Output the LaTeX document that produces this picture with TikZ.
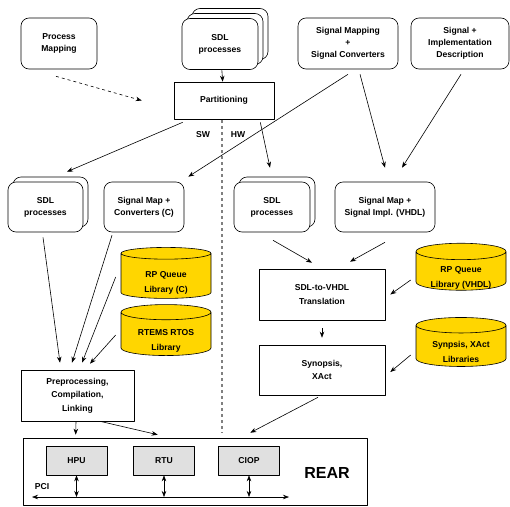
\documentclass[tikz,border=0pt]{standalone}
\usepackage{fontspec}
\setmainfont{Liberation Sans}
\usetikzlibrary{arrows.meta,calc,shapes.geometric,shadows}
\definecolor{libyellow}{RGB}{255,214,0}
\definecolor{unitgray}{RGB}{224,224,224}

\newcommand{\dbtext}[1]{\raisebox{-8pt}[0pt][0pt]{\begin{tabular}{@{}c@{}}#1\end{tabular}}}

\tikzset{
  lbl/.style={font=\bfseries\fontsize{8.6}{12}\selectfont, align=center},
  rbox/.style={lbl, draw, rounded corners=8pt, fill=white, inner sep=0pt},
  sqbox/.style={lbl, draw, fill=white, inner sep=0pt, font=\bfseries\fontsize{8.6}{13.5}\selectfont},
  stack/.style={copy shadow={shadow xshift=5pt,shadow yshift=5pt}},
  dstack/.style={double copy shadow={shadow xshift=5pt,shadow yshift=5pt}},
  unitbox/.style={lbl, draw, fill=unitgray, inner sep=0pt, minimum width=61pt, minimum height=29pt},
  libdb/.style={lbl, draw, cylinder, shape border rotate=90, aspect=0.27, fill=libyellow,
    minimum width=90pt, minimum height=51pt, inner sep=0pt, font=\bfseries\fontsize{8.6}{15}\selectfont},
  conn/.style={->},
  sepline/.style={draw=gray, dash pattern=on 3pt off 3pt, line width=1.2pt}
}

\begin{document}
\begin{tikzpicture}[x=1pt,y=-1pt,line width=0.6pt,line join=round,>={Stealth[length=6pt,width=4.5pt]}]
\useasboundingbox (0,0) rectangle (510,506);

% top row
\node[rbox,minimum width=76pt,minimum height=51pt] (pm) at (59,43.5) {Process\\Mapping};
\node[rbox,dstack,minimum width=76pt,minimum height=51pt] (sdl) at (220,44) {SDL\\processes};
\node[rbox,minimum width=100pt,minimum height=51pt] (sigmap) at (348,43.5) {Signal Mapping\\+\\Signal Converters};
\node[rbox,minimum width=98pt,minimum height=51pt] (sigimpl) at (460,43.5) {Signal +\\Implementation\\Description};
\node[sqbox,minimum width=100pt,minimum height=37pt] (part) at (224,100.5) {Partitioning};

\node[lbl] (sw) at (203,135) {SW};
\node[lbl] (hw) at (238,135) {HW};
\draw[sepline] ($(part.south)+(-2,1)$) -- ++(0,313);

% second row
\node[rbox,stack,minimum width=75pt,minimum height=50pt] (sdlsw) at (45.5,207) {SDL\\processes};
\node[rbox,minimum width=80pt,minimum height=50pt] (sigc) at (144,207) {Signal Map +\\Converters (C)};
\node[rbox,stack,minimum width=76pt,minimum height=50pt] (sdlhw) at (272,207) {SDL\\processes};
\node[rbox,minimum width=100pt,minimum height=50pt] (sigv) at (385,207) {Signal Map +\\Signal Impl. (VHDL)};

% libraries
\node[libdb] (rpc) at (166,276) {\dbtext{RP Queue\\Library (C)}};
\node[libdb] (rtems) at (166,334) {\dbtext{RTEMS RTOS\\Library}};
\node[libdb,minimum height=47pt] (rpv) at (461,271) {\dbtext{RP Queue\\Library (VHDL)}};
\node[libdb,minimum height=49pt] (synlib) at (461,346) {\dbtext{Synpsis, XAct\\Libraries}};

% tools
\node[sqbox,minimum width=126pt,minimum height=51pt] (trans) at (322,294.5) {SDL-to-VHDL\\Translation};
\node[sqbox,minimum width=126pt,minimum height=50pt] (syn) at (322,370) {Synopsis,\\XAct};
\node[sqbox,minimum width=113pt,minimum height=51pt] (prep) at (77.5,395.5) {Preprocessing,\\Compilation,\\Linking};

% target board
\node[draw,minimum width=344pt,minimum height=67pt,inner sep=0pt] (rear) at (195,471.5) {};
\node[lbl,font=\bfseries\fontsize{16}{18}\selectfont] (rearlbl) at (327,473) {REAR};
\node[lbl] (pcilbl) at (42,487) {PCI};
\coordinate (pcil) at (32,497);
\coordinate (pcir) at (289,497);
\draw[<->] (pcil) -- (pcir);
\foreach \u/\x/\t in {hpu/76.5/HPU,rtu/164/RTU,ciop/249/CIOP}{
  \node[unitbox] (\u) at (\x,460.5) {\t};
  \draw[<->] (\u.south) -- (\u.south |- pcil);
}

% flows
\draw[conn,dashed] ($(pm.south)+(-3,7)$) -- ($(part.west)+(-32,0)$);
\draw[conn] (sdl) -- (part);
\draw[conn] ($(part.south west)+(9,3)$) -- ($(sdlsw.north)+(21.5,-10)$);
\draw[conn] ($(part.south east)+(-14,3)$) -- ($(sdlhw.north)+(-2,-14)$);
\draw[conn] ($(sigmap.south)+(0,5)$) -- ($(sigc.north east)+(4,-5)$);
\draw[conn] ($(sigmap.south)+(12,5)$) -- ($(sigv.north)+(0,-14)$);
\draw[conn] ($(sigimpl.south)+(1,5)$) -- ($(sigv.north)+(17,-14)$);

\draw[conn] ($(sdlsw.south)+(-2.5,5)$) -- ($(prep.north)+(-17.5,-7)$);
\draw[conn] ($(sigc.south)+(-32,3)$) -- ($(prep.north)+(-5.5,-7)$);
\draw[conn] ($(rpc.west)+(-5,1)$) -- ($(prep.north)+(4.5,-7)$);
\draw[conn] ($(rtems.west)+(-5,1)$) -- ($(prep.north)+(12.5,-6)$);
\draw[conn] ($(prep.south)+(-1.5,0)$) -- ($(rear.north west)+(53,-3)$);
\draw[conn] ($(prep.south)+(22.5,0)$) -- ($(rear.north west)+(135,-3)$);

\draw[conn] ($(sdlhw.south)+(1,8)$) -- ($(trans.north)+(-10,-6)$);
\draw[conn] ($(sigv.south)+(0,10)$) -- ($(trans.north)+(28,-7)$);
\draw[conn] ($(rpv.west)+(-5,9)$) -- ($(trans.east)+(5,0)$);
\draw[conn] ($(trans.south)+(0,8)$) -- ($(syn.north)+(0,-7)$);
\draw[conn] ($(synlib.west)+(-5,9)$) -- ($(syn.east)+(5,2)$);
\draw[conn] ($(syn.south)+(-4,2)$) -- ($(rear.north east)+(-117,-5)$);
\end{tikzpicture}
\end{document}
